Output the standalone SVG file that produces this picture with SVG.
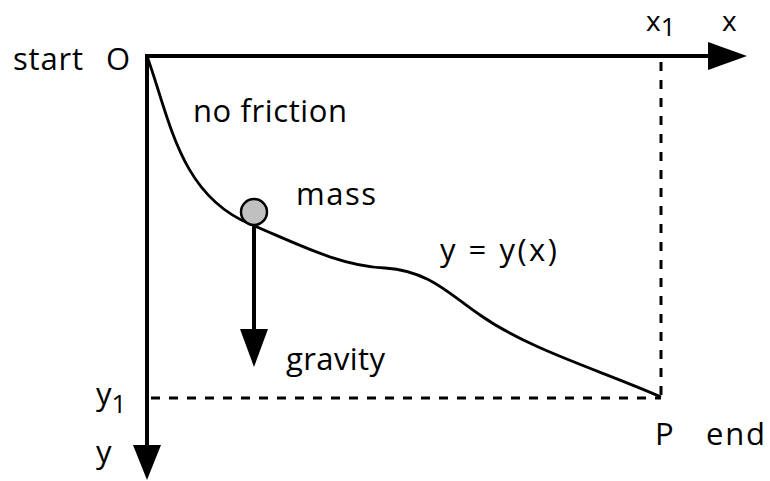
<svg xmlns="http://www.w3.org/2000/svg" width="770" height="481" viewBox="0 0 770 481">
<style>
text { font-family: "Open Sans", "Noto Sans", sans-serif; font-size: 31px; fill: #000; }
.sub { font-size: 26px; }
.top { font-size: 28px; }
.axis { stroke: #000; stroke-width: 4; fill: none; }
.dash { stroke: #000; stroke-width: 3; stroke-dasharray: 9 9; fill: none; }
.curve { stroke: #000; stroke-width: 2.8; fill: none; }
</style>
<rect width="770" height="481" fill="#fff"/>
<g id="connectors">
  <line class="axis" x1="147" y1="56" x2="710" y2="56"/>
  <polygon points="708,42 747,56 708,70" fill="#000"/>
  <line class="axis" x1="147" y1="54" x2="147" y2="447"/>
  <polygon points="133,445 161,445 147,480" fill="#000"/>
  <line class="dash" x1="661" y1="62" x2="661" y2="398"/>
  <line class="dash" x1="151" y1="398" x2="661" y2="398"/>
  <path class="curve" d="M147,56 C170,120 180,195 250,224 C300,245 340,266 385,268 C430,271 450,295 480,315 C530,350 600,370 661,397"/>
  <line class="axis" x1="254" y1="224" x2="254" y2="332"/>
  <polygon points="240,329 268,329 254,367" fill="#000"/>
</g>
<g id="mass">
  <circle cx="254" cy="212" r="13" fill="#c0c0c0" stroke="#000" stroke-width="2.5"/>
  <text x="296" y="205" textLength="80" lengthAdjust="spacing">mass</text>
</g>
<g id="labels">
  <text x="13" y="70" textLength="70" lengthAdjust="spacing">start</text>
  <text x="106" y="70">O</text>
  <text x="193" y="122" textLength="154" lengthAdjust="spacing">no friction</text>
  <text x="440" y="261" textLength="117" lengthAdjust="spacing">y = y(x)</text>
  <text x="286" y="370" textLength="99" lengthAdjust="spacing">gravity</text>
  <text x="96" y="405">y<tspan class="sub" dy="8">1</tspan></text>
  <text x="96" y="463">y</text>
  <text class="top" x="646" y="31">x<tspan class="sub" dy="5">1</tspan></text>
  <text class="top" x="722" y="31">x</text>
  <text x="655" y="445">P</text>
  <text x="706" y="445" textLength="59" lengthAdjust="spacing">end</text>
</g>
</svg>
